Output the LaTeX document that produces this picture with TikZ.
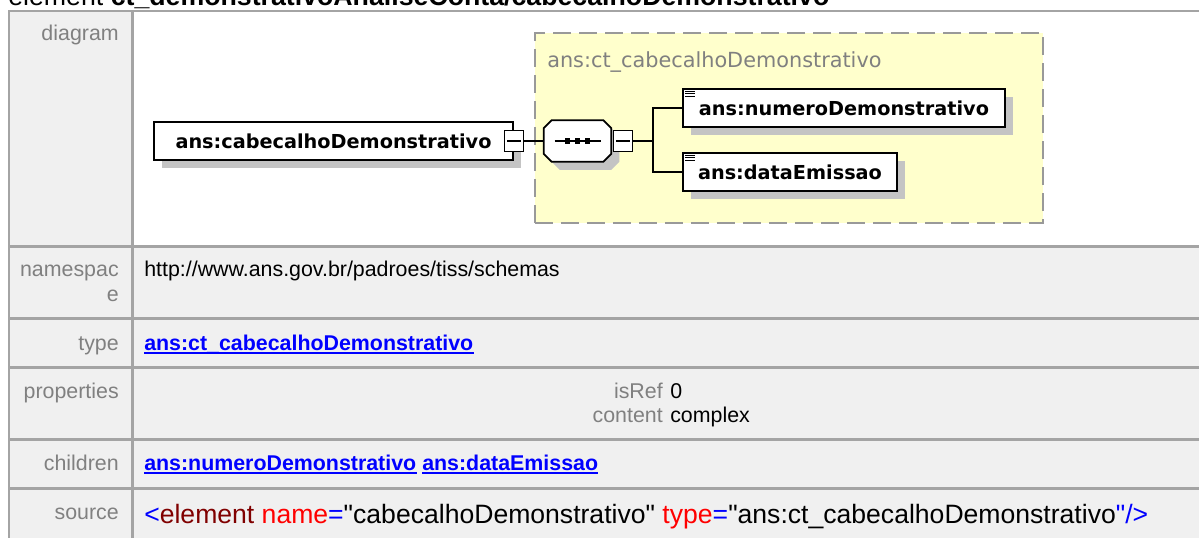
\documentclass[tikz,border=0pt]{standalone}
\usepackage{fontspec}
\setmainfont{Liberation Sans}
\newfontfamily\srcfamily{Liberation Sans}
\newfontfamily\xsdfont{DejaVu Sans}
\usepackage{xcolor}
\usepackage{tikz}
\usetikzlibrary{shadows}
\definecolor{cBorder}{HTML}{A4A4A4}
\definecolor{cCell}{HTML}{F0F0F0}
\definecolor{cLabel}{HTML}{808080}
\definecolor{cLink}{HTML}{0000FF}
\definecolor{cTag}{HTML}{800000}
\definecolor{cAttr}{HTML}{FF0000}
\definecolor{cYellow}{HTML}{FFFFCC}
\definecolor{cDash}{HTML}{999999}
\definecolor{cShadow}{HTML}{C4C4C4}
\newcommand\tblfont{\fontsize{15.2}{18}\selectfont}
\newcommand\srcfont{\srcfamily\fontsize{18.9}{22}\selectfont}
\newcommand\xsdbold{\xsdfont\bfseries\fontsize{13.7}{16}\selectfont}
\newcommand\xsdtitle{\xsdfont\fontsize{14.8}{17}\selectfont}
\newcommand\pgtitlefont{\fontsize{19}{22}\selectfont}
\tikzset{
  cell/.style={draw=cBorder,fill=#1,line width=1.2pt},
  lbl/.style={font=\tblfont,text=cLabel,anchor=base east,inner sep=0pt},
  val/.style={font=\tblfont,text=black,anchor=base west,inner sep=0pt},
  lnk/.style={val,font=\tblfont\bfseries,text=cLink},
  src/.style={val,font=\srcfont},
  pgtitle/.style={font=\pgtitlefont,anchor=base west,inner sep=0pt},
  ctframe/.style={draw=cDash,fill=cYellow,line width=1.2pt,dash pattern=on 0.45cm off 0.2cm,
    minimum width=12.7cm,minimum height=4.75cm,inner sep=0pt},
  cttitle/.style={font=\xsdtitle,text=cLabel,anchor=base west,inner sep=0pt},
  elbox/.style={draw=black,fill=white,line width=1.2pt,font=\xsdbold,minimum height=0.95cm,inner sep=0pt,
    general shadow={fill=cShadow,shadow xshift=0.2cm,shadow yshift=-0.2cm}},
  seqbox/.style={minimum width=1.675cm,minimum height=1.025cm,inner sep=0pt},
  seqline/.style={draw=black,fill=white,line width=1.2pt},
  seqshadow/.style={fill=cShadow},
  minusbox/.style={draw=black,fill=white,line width=1pt,minimum width=0.48cm,minimum height=0.52cm,inner sep=0pt,
    path picture={\draw[line width=1pt] ([xshift=-0.17cm]path picture bounding box.center) -- ([xshift=0.17cm]path picture bounding box.center);}},
  conn/.style={draw=black,line width=1pt},
}
\begin{document}
\begin{tikzpicture}[x=0.025cm,y=-0.025cm]
    \useasboundingbox (0,0) rectangle (1199,538);
    \clip (0,0) rectangle (1199,538);
    % page title (cut by the top edge)
    \node[pgtitle] (pagetitle) at (8,6) {element \textbf{ct\_demonstrativoAnaliseConta/cabecalhoDemonstrativo}};
    % table cells
    \foreach \ya/\yb/\cc in {11/246/white,247/318/cCell,319/367/cCell,368/439/cCell,440/488/cCell,489/560/cCell}{
      \draw[cell=cCell] (9,\ya) rectangle (132,\yb);
      \draw[cell=\cc] (133,\ya) rectangle (1230,\yb);}
    % row labels
    \foreach \y/\t [count=\i] in {41/diagram,277/namespac,302/e,350/type,398/properties,470/children,519/source}{
      \node[lbl] (lab\i) at (119,\y) {\t};}
    % namespace, type
    \node[val] (ns) at (144,277) {http://www.ans.gov.br/padroes/tiss/schemas};
    \node[lnk] (tplnk) at (144,350) {ans:ct\_cabecalhoDemonstrativo};
    % properties
    \node[lbl] (pk1) at (663,398) {isRef};
    \node[val] (pv1) at (670,398) {0};
    \node[lbl] (pk2) at (663,422) {content};
    \node[val] (pv2) at (670,422) {complex};
    % children
    \node[lnk] (c1lnk) at (144,470) {ans:numeroDemonstrativo};
    \node[lnk] (c2lnk) at (422,470) {ans:dataEmissao};
    \foreach \n in {tplnk,c1lnk,c2lnk}{
      \draw[cLink,line width=1pt] ([yshift=-0.07cm]\n.base west) -- ([yshift=-0.07cm]\n.base east);}
    % source
    \node[src] (srcline) at (144,523) {\textcolor{cLink}{<}\textcolor{cTag}{element} \textcolor{cAttr}{name}\textcolor{cLink}{=}"cabecalhoDemonstrativo" \textcolor{cAttr}{type}\textcolor{cLink}{=}"ans:ct\_cabecalhoDemonstrativo\textcolor{cLink}{"/>}};
    % complex type frame
    \node[ctframe] (ct) at (789,128) {};
    \node[cttitle] (cttitle) at (547,68) {ans:ct\_cabecalhoDemonstrativo};
    % element, sequence and its children
    \node[elbox,minimum width=8.975cm] (el) at (333.5,141) {ans:cabecalhoDemonstrativo};
    \node[minusbox] (elminus) at (el.east) {};
    \node[seqbox] (seq) at (577.5,141) {};
    \foreach \s/\st in {8/seqshadow,0/seqline}{
      \path[\st] ([shift={(8+\s,\s)}]seq.north west) -- ([shift={(-8+\s,\s)}]seq.north east)
        -- ([shift={(\s,8+\s)}]seq.north east) -- ([shift={(\s,-8+\s)}]seq.south east)
        -- ([shift={(-8+\s,\s)}]seq.south east) -- ([shift={(8+\s,\s)}]seq.south west)
        -- ([shift={(\s,-8+\s)}]seq.south west) -- ([shift={(\s,8+\s)}]seq.north west) -- cycle;}
    \node[minusbox] (seqminus) at (623,141) {};
    \node[elbox,minimum width=8.05cm] (ch1) at (844,108) {ans:numeroDemonstrativo};
    \node[elbox,minimum width=5.35cm] (ch2) at (790,172) {ans:dataEmissao};
    % sequence glyph
    \draw[line width=1pt] (seq.center) ++(-23,0) -- ++(46,0);
    \foreach \dx in {-10,0,10}{
      \fill ([xshift=\dx*0.025cm]seq.center) +(-2.6,-2.6) rectangle +(2.6,2.6);}
    % document marks
    \foreach \n in {ch1,ch2}{
      \foreach \dy in {3,5.5,8}{\draw[line width=0.6pt] (\n.north west) ++(3,\dy) -- ++(10,0);}}
    % connectors
    \coordinate (branch) at (653,141);
    \draw[conn] (elminus.east) -- (seq.west);
    \draw[conn] (seqminus.east) -- (branch) |- (ch1.west);
    \draw[conn] (branch) |- (ch2.west);
\end{tikzpicture}
\end{document}
